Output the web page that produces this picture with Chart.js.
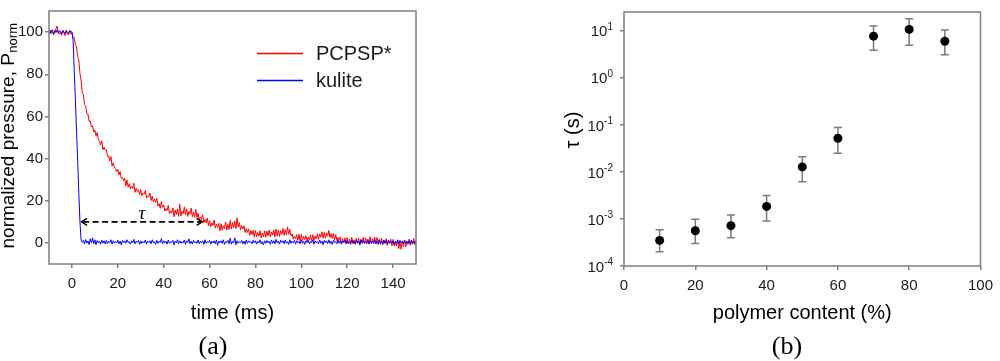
<!DOCTYPE html>
<html><head><meta charset="utf-8">
<script src="https://cdn.jsdelivr.net/npm/chart.js@4.4.1/dist/chart.umd.min.js"></script>
<style>
html,body{margin:0;padding:0;background:#fff;}
#wrap{position:relative;width:1000px;height:361px;overflow:hidden;background:#fff;}
#c1{position:absolute;left:0;top:0;width:430px;height:361px;}
#c2{position:absolute;left:560px;top:0;width:440px;height:361px;}
</style></head><body>
<div id="wrap">
<canvas id="c1" width="430" height="361"></canvas>
<canvas id="c2" width="440" height="361"></canvas>
</div>
<script>
// ---------- Panel (a): pressure traces, sampled every 0.5 ms from -10 ms ----------
const timeStart = -10, timeStep = 0.5;
const pcpspValues = [
99.0,100.9,99.4,101.2,98.6,100.1,101.4,102.8,100.2,98.9,
100.3,98.4,100.7,99.6,98.3,100.5,99.2,98.6,100.8,99.0,
99.6,97.5,97.4,93.9,93.0,88.4,86.7,80.4,77.0,71.1,
70.2,65.6,65.1,61.2,61.0,57.6,57.9,55.0,55.6,52.6,
53.5,50.6,52.4,49.6,48.1,46.5,48.3,44.2,45.5,44.1,
44.1,41.0,41.2,38.9,41.0,36.4,38.0,36.1,35.2,33.7,
35.0,32.2,33.9,30.6,31.0,29.5,30.6,27.0,29.8,26.4,
28.1,25.6,26.9,25.8,28.3,24.0,25.9,24.4,25.2,22.9,
25.3,22.4,23.6,23.1,24.9,21.3,22.3,21.8,23.6,20.1,
22.2,19.4,20.8,19.2,21.2,17.4,18.6,16.4,19.6,16.9,
17.9,15.1,16.3,15.4,17.8,13.9,15.2,14.1,16.6,12.4,
15.6,13.5,16.1,12.6,18.4,12.7,14.9,13.8,17.1,13.3,
16.2,12.6,14.9,13.6,16.5,12.3,14.6,12.2,15.9,12.0,
14.1,10.9,12.4,11.0,13.4,9.5,11.2,9.6,11.8,8.2,
10.6,7.7,9.5,8.3,10.9,7.0,9.0,7.4,9.3,5.7,
9.1,6.0,8.1,6.8,9.9,6.1,8.8,6.4,10.6,6.6,
9.7,7.2,10.4,6.8,11.9,7.5,9.6,6.3,8.2,6.6,
8.1,4.9,6.8,5.0,6.7,3.6,5.9,3.9,6.0,2.7,
5.9,2.9,4.9,3.2,5.8,2.4,4.7,2.9,5.7,2.6,
5.6,3.3,6.1,2.9,5.2,3.7,6.2,2.8,6.6,3.2,
6.1,3.0,5.8,4.1,6.9,3.5,6.3,3.7,7.6,4.1,
6.4,3.3,4.3,1.7,3.2,2.0,3.9,1.2,4.1,0.6,
4.0,1.1,3.1,1.6,3.4,0.7,2.8,1.3,3.8,1.1,
3.9,1.2,3.3,1.9,4.3,1.7,4.2,2.7,5.3,2.2,
5.0,2.3,4.8,3.2,5.9,2.5,4.4,2.1,4.5,1.2,
3.9,1.1,2.6,1.2,2.8,0.1,2.0,0.3,2.4,-0.4,
2.5,-0.5,1.8,0.1,2.6,-0.4,1.5,-0.7,2.3,0.0,
2.2,-0.8,1.7,0.2,2.7,-0.4,2.4,-0.1,1.8,-0.3,
2.9,-0.4,2.0,0.4,2.7,-0.5,2.6,0.1,1.7,-0.7,
2.3,-0.9,1.4,-0.4,2.0,-1.2,1.3,-0.3,1.8,-1.3,
1.7,-1.5,0.6,-1.4,1.2,-2.7,0.3,-3.0,1.0,-1.7,
1.3,-1.9,0.7,-0.8,1.8,-1.2,1.2,-0.3,2.1,-0.9,
1.5
];
const kuliteValues = [
100.5,99.4,100.9,99.9,99.2,100.8,99.8,101.0,99.5,100.6,
100.3,99.2,100.8,99.9,99.4,100.9,99.7,99.3,100.7,100.0,
100.2,96,82,68,53,39,24,10,1.2,0.3,
1.2,-0.5,1.6,-0.1,0.9,-0.8,2.0,0.1,2.4,-0.4,
1.5,-0.9,1.1,0.0,0.8,-0.6,1.3,-0.1,1.0,-0.5,
1.2,-0.4,0.8,0.2,1.5,-0.6,1.0,-0.1,0.6,0.0,
1.3,-0.4,0.8,-0.9,1.2,0.0,1.0,-0.2,1.5,0.2,
0.6,-0.6,1.0,0.0,1.7,-0.4,0.8,0.2,1.2,-0.7,
1.0,-0.2,0.6,0.0,1.4,-0.6,0.8,0.2,1.0,-0.4,
1.5,0.0,0.6,-0.7,1.2,-0.2,0.8,0.2,2.0,-0.4,
1.0,0.0,0.8,-0.6,1.4,-0.2,0.6,0.2,1.2,-0.9,
0.8,0.0,1.5,-0.4,1.0,-0.2,0.6,0.0,1.4,-0.7,
1.0,0.2,1.9,-0.4,0.8,-0.6,1.2,0.0,0.6,-0.2,
1.4,-0.4,0.8,0.0,1.0,-0.7,1.5,-0.2,0.6,0.2,
1.2,-0.6,0.8,0.0,1.0,-0.4,1.4,-1.1,0.8,0.0,
1.0,-0.2,1.5,-0.7,0.6,0.2,1.2,-0.4,2.2,-0.6,
0.8,0.0,2.4,-0.9,1.0,-0.2,0.6,0.0,1.2,-0.4,
0.8,-0.7,1.4,-0.2,1.0,0.2,0.6,-0.4,1.2,0.0,
1.0,-0.6,0.8,0.0,1.5,-0.4,0.6,-0.9,1.0,-0.2,
1.2,0.0,0.8,-0.7,1.4,-0.2,1.0,-0.4,1.7,0.0,
0.8,-0.6,1.2,0.2,1.0,-0.4,1.4,-0.2,0.6,-0.7,
1.5,-0.2,0.8,0.0,1.2,-0.6,1.0,0.0,0.6,-0.4,
1.4,-0.2,0.8,-0.7,1.0,0.2,1.2,-0.4,0.8,0.0,
1.5,-0.6,1.0,0.0,0.6,-0.4,1.4,-0.2,0.8,-0.9,
1.2,0.0,1.0,-0.4,1.5,-0.2,0.8,-0.7,1.2,0.0,
0.6,-0.4,1.4,-0.2,1.0,-0.6,0.8,0.2,1.2,-0.4,
1.0,-0.2,0.6,-0.7,1.4,0.0,0.8,-0.4,1.2,-0.2,
0.8,-0.9,1.5,-0.2,1.0,0.0,0.6,-0.4,1.4,-0.6,
1.0,0.0,0.8,-0.4,1.2,-0.2,0.6,-0.7,1.5,-0.2,
0.8,-0.4,1.2,0.0,1.0,-0.6,1.4,-0.2,0.6,0.0,
1.0,-0.7,0.8,-0.2,1.5,-0.4,1.2,0.0,0.6,-0.6,
1.4,-0.2,0.8,0.0,1.0,-0.4,1.2,-0.6,0.8,0.0,
0.6
];
const seriesNames = ['PCPSP*', 'kulite'];
const seriesColors = ['#ff0000', '#0000ff'];
const timeTicks = [0, 20, 40, 60, 80, 100, 120, 140];
const pressureTicks = [0, 20, 40, 60, 80, 100];
const tauArrowTimes = [4, 57];
const tauArrowLevel = 10;
const tauLabelTime = 30.5;

// ---------- Panel (b): time constant vs polymer content ----------
const polymerContent = [10, 20, 30, 40, 50, 60, 70, 80, 90];
const tauValues = [3.5e-4, 5.6e-4, 7.2e-4, 1.85e-3, 1.28e-2, 5.2e-2, 7.7, 10.7, 6.0];
const tauLower  = [2.0e-4, 3.0e-4, 4.0e-4, 9.0e-4, 6.2e-3, 2.5e-2, 3.86, 4.96, 3.1];
const tauUpper  = [5.9e-4, 9.8e-4, 1.22e-3, 3.15e-3, 2.09e-2, 8.8e-2, 12.6, 18.0, 10.4];
const polymerTicks = [0, 20, 40, 60, 80, 100];
const tauTicks = [1e-4, 1e-3, 1e-2, 1e-1, 1, 10];
const tauTickExponents = ['-4', '-3', '-2', '-1', '0', '1'];

const SANS = '"Liberation Sans", Arial, Helvetica, sans-serif';
const SERIF = '"Liberation Serif", "Times New Roman", serif';
Chart.defaults.font.family = SANS;
Chart.defaults.color = '#1a1a1a';

const toPoints = vals => vals.map((v, i) => ({ x: timeStart + i * timeStep, y: v }));

function axisCommon(tickList, fitProp, fitSize, pad) {
  return {
    grid: { display: true, drawOnChartArea: false, drawTicks: true, tickLength: 4, color: '#808080', lineWidth: 1.5 },
    border: { display: false },
    ticks: { autoSkip: false, maxRotation: 0, padding: pad, font: { size: 15 }, color: '#1a1a1a' },
    afterBuildTicks: s => { s.ticks = tickList.map(v => ({ value: v })); },
    afterFit: s => { s[fitProp] = fitSize; }
  };
}

const panelAPlugin = {
  id: 'panelA',
  afterDraw(chart) {
    const { ctx, chartArea: a, scales: { x, y } } = chart;
    ctx.save();
    ctx.strokeStyle = '#808080'; ctx.lineWidth = 1.5;
    ctx.strokeRect(a.left, a.top, a.right - a.left, a.bottom - a.top);

    // tau arrow
    const x1 = x.getPixelForValue(tauArrowTimes[0]);
    const x2 = x.getPixelForValue(tauArrowTimes[1]);
    const yy = y.getPixelForValue(tauArrowLevel);
    ctx.strokeStyle = '#000'; ctx.lineWidth = 1.8;
    ctx.setLineDash([6, 3.5]);
    ctx.beginPath(); ctx.moveTo(x1 + 2, yy); ctx.lineTo(x2 - 2, yy); ctx.stroke();
    ctx.setLineDash([]);
    ctx.lineWidth = 1.5;
    ctx.beginPath();
    ctx.moveTo(x1 + 6, yy - 3.5); ctx.lineTo(x1 + 0.5, yy); ctx.lineTo(x1 + 6, yy + 3.5);
    ctx.moveTo(x2 - 6, yy - 3.5); ctx.lineTo(x2 - 0.5, yy); ctx.lineTo(x2 - 6, yy + 3.5);
    ctx.stroke();
    ctx.fillStyle = '#000';
    ctx.font = 'italic 19px ' + SERIF;
    ctx.textAlign = 'center'; ctx.textBaseline = 'alphabetic';
    ctx.fillText('τ', x.getPixelForValue(tauLabelTime), yy - 3);

    // legend
    ctx.font = '20px ' + SANS; ctx.textAlign = 'left'; ctx.textBaseline = 'middle';
    for (let i = 0; i < seriesNames.length; i++) {
      const ly = 53.5 + i * 27;
      ctx.beginPath();
      ctx.strokeStyle = seriesColors[i]; ctx.lineWidth = 1.3;
      ctx.moveTo(257, ly); ctx.lineTo(303, ly);
      ctx.stroke();
      ctx.fillStyle = '#1a1a1a';
      ctx.fillText(seriesNames[i], 316, ly + 1);
    }

    // x title
    ctx.fillStyle = '#000';
    ctx.font = '20px ' + SANS; ctx.textAlign = 'center'; ctx.textBaseline = 'middle';
    ctx.fillText('time (ms)', (a.left + a.right) / 2, 313);

    // y title with subscript
    ctx.save();
    ctx.translate(9, 136); ctx.rotate(-Math.PI / 2);
    const main = 'normalized pressure, P';
    ctx.font = '19px ' + SANS; const wm = ctx.measureText(main).width;
    ctx.font = '13px ' + SANS; const ws = ctx.measureText('norm').width;
    const sx = -(wm + ws) / 2;
    ctx.textAlign = 'left'; ctx.textBaseline = 'middle';
    ctx.font = '19px ' + SANS; ctx.fillText(main, sx, 0);
    ctx.font = '13px ' + SANS; ctx.fillText('norm', sx + wm + 0.5, 4);
    ctx.restore();

    // panel label
    ctx.font = '26px ' + SERIF; ctx.textAlign = 'center'; ctx.textBaseline = 'middle';
    ctx.fillText('(a)', 213, 347);
    ctx.restore();
  }
};

new Chart(document.getElementById('c1'), {
  type: 'line',
  data: {
    datasets: [
      { label: seriesNames[1], data: toPoints(kuliteValues), borderColor: seriesColors[1], borderWidth: 1, pointRadius: 0, tension: 0, order: 1 },
      { label: seriesNames[0], data: toPoints(pcpspValues), borderColor: seriesColors[0], borderWidth: 1, pointRadius: 0, tension: 0, order: 2 }
    ]
  },
  options: {
    responsive: false, animation: false, events: [],
    layout: { padding: { top: 1, right: 14, left: 0, bottom: 0 } },
    plugins: { legend: { display: false }, tooltip: { enabled: false } },
    scales: {
      x: Object.assign({ type: 'linear', min: -10, max: 150 }, axisCommon(timeTicks, 'height', 97, 7)),
      y: Object.assign({ type: 'linear', min: -10, max: 110 }, axisCommon(pressureTicks, 'width', 49, 2))
    }
  },
  plugins: [panelAPlugin]
});

const panelBPlugin = {
  id: 'panelB',
  beforeDatasetsDraw(chart) {
    const { ctx, scales: { x, y } } = chart;
    ctx.save();
    ctx.strokeStyle = '#7a7a7a'; ctx.lineWidth = 1.5;
    polymerContent.forEach((p, i) => {
      const px = x.getPixelForValue(p);
      const yl = y.getPixelForValue(tauLower[i]);
      const yh = y.getPixelForValue(tauUpper[i]);
      ctx.beginPath();
      ctx.moveTo(px, yl); ctx.lineTo(px, yh);
      ctx.moveTo(px - 4, yl); ctx.lineTo(px + 4, yl);
      ctx.moveTo(px - 4, yh); ctx.lineTo(px + 4, yh);
      ctx.stroke();
    });
    ctx.restore();
  },
  afterDraw(chart) {
    const { ctx, chartArea: a, scales: { y } } = chart;
    ctx.save();
    ctx.strokeStyle = '#808080'; ctx.lineWidth = 1.5;
    ctx.strokeRect(a.left, a.top, a.right - a.left, a.bottom - a.top);

    // y tick labels with exponents
    ctx.fillStyle = '#1a1a1a'; ctx.textAlign = 'left'; ctx.textBaseline = 'middle';
    tauTicks.forEach((v, i) => {
      const py = y.getPixelForValue(v);
      ctx.font = '10px ' + SANS; const we = ctx.measureText(tauTickExponents[i]).width;
      ctx.font = '15px ' + SANS; const wb = ctx.measureText('10').width;
      const right = a.left - 11;
      ctx.fillText('10', right - we - wb, py + 1.5);
      ctx.font = '10px ' + SANS;
      ctx.fillText(tauTickExponents[i], right - we, py - 3.5);
    });

    ctx.fillStyle = '#000';
    ctx.font = '20px ' + SANS; ctx.textAlign = 'center'; ctx.textBaseline = 'middle';
    ctx.fillText('polymer content (%)', (a.left + a.right) / 2, 313);

    ctx.save();
    ctx.translate(13, 130); ctx.rotate(-Math.PI / 2);
    ctx.fillText('τ (s)', 0, 0);
    ctx.restore();

    ctx.font = '26px ' + SERIF;
    ctx.fillText('(b)', 227, 347);
    ctx.restore();
  }
};

new Chart(document.getElementById('c2'), {
  type: 'scatter',
  data: {
    datasets: [{
      label: 'tau',
      data: polymerContent.map((p, i) => ({ x: p, y: tauValues[i] })),
      pointRadius: 4.5, pointBackgroundColor: '#000', pointBorderColor: '#000', pointBorderWidth: 0
    }]
  },
  options: {
    responsive: false, animation: false, events: [],
    layout: { padding: { top: 3, right: 12, left: 0, bottom: 0 } },
    plugins: { legend: { display: false }, tooltip: { enabled: false } },
    scales: {
      x: Object.assign({ type: 'linear', min: 0, max: 100 }, axisCommon(polymerTicks, 'height', 95, 7)),
      y: Object.assign({ type: 'logarithmic', min: 1e-4, max: 25.1 }, axisCommon(tauTicks, 'width', 64, 2), {
        ticks: { autoSkip: false, callback: () => '', font: { size: 15 } }
      })
    }
  },
  plugins: [panelBPlugin]
});
</script>
</body></html>
